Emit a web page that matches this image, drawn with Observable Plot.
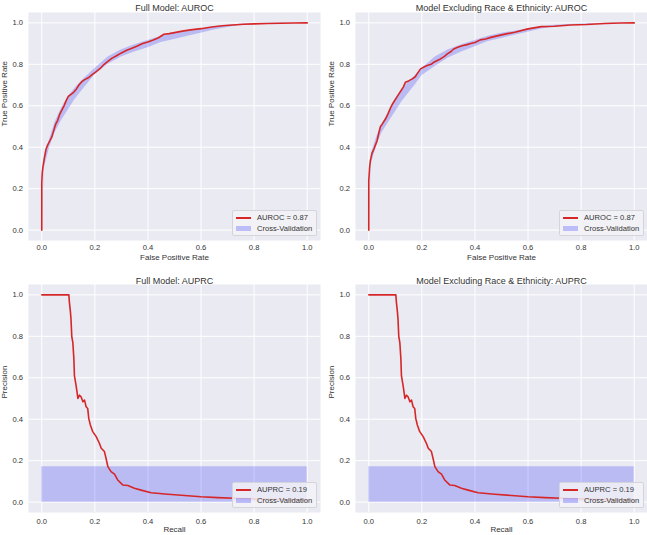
<!DOCTYPE html>
<html><head><meta charset="utf-8">
<script src="https://cdn.jsdelivr.net/npm/d3@7"></script>
<script src="https://cdn.jsdelivr.net/npm/@observablehq/plot@0.6"></script>
<style>
body{margin:0;background:#fff;font-family:"Liberation Sans",Arial,sans-serif;}
#wrap{position:relative;width:647px;height:535px;overflow:hidden;}
.panel{position:absolute;}
.legend{position:absolute;box-sizing:border-box;background:rgba(242,242,247,0.85);border:1px solid #d4d4dc;border-radius:2px;font-size:7.6px;color:#333;padding-top:1px;}
.row{display:flex;align-items:center;height:11px;line-height:11px;white-space:nowrap;}
.hl{width:15px;height:2px;margin-left:3px;margin-right:6px;}
.hp{width:15px;height:5px;margin-left:3px;margin-right:6px;}
</style></head><body><div id="wrap"></div><script>
// ---- data ----
const axisTicks = [0, 0.2, 0.4, 0.6, 0.8, 1.0];
const panelTitles = ["Full Model: AUROC", "Model Excluding Race & Ethnicity: AUROC", "Full Model: AUPRC", "Model Excluding Race & Ethnicity: AUPRC"];
const xLabels = ["False Positive Rate", "False Positive Rate", "Recall", "Recall"];
const yLabels = ["True Positive Rate", "True Positive Rate", "Precision", "Precision"];
const curveLabels = ["AUROC = 0.87", "AUROC = 0.87", "AUPRC = 0.19", "AUPRC = 0.19"];
const bandLabel = "Cross-Validation";

const fullRocFpr = [0,0.0,0.002,0.005,0.01,0.016,0.022,0.03,0.038,0.045,0.052,0.06,0.068,0.076,0.084,0.092,0.1,0.11,0.12,0.13,0.14,0.15,0.16,0.175,0.19,0.205,0.22,0.235,0.25,0.265,0.28,0.3,0.32,0.34,0.36,0.38,0.4,0.42,0.44,0.46,0.48,0.5,0.53,0.56,0.6,0.64,0.68,0.72,0.76,0.8,0.85,0.9,0.95,1];
const fullRocTpr = [0,0.23,0.28,0.31,0.35,0.39,0.41,0.43,0.45,0.48,0.51,0.53,0.56,0.58,0.6,0.625,0.645,0.655,0.665,0.68,0.70,0.715,0.725,0.735,0.75,0.765,0.78,0.80,0.815,0.83,0.84,0.855,0.868,0.878,0.888,0.90,0.908,0.917,0.928,0.945,0.948,0.953,0.96,0.966,0.972,0.98,0.986,0.99,0.993,0.995,0.997,0.998,0.999,1];
const fullBandFpr = [0,0.01,0.03,0.05,0.075,0.1,0.125,0.15,0.175,0.2,0.25,0.3,0.35,0.4,0.45,0.5,0.55,0.6,0.65,0.7,0.75,0.8,0.9,1];
const fullBandLo  = [0,0.30,0.40,0.47,0.53,0.58,0.63,0.67,0.71,0.75,0.80,0.835,0.86,0.88,0.905,0.92,0.935,0.95,0.965,0.978,0.988,0.993,0.997,1];
const fullBandHi  = [0,0.36,0.44,0.52,0.59,0.645,0.685,0.72,0.75,0.78,0.835,0.87,0.895,0.915,0.935,0.95,0.96,0.97,0.98,0.988,0.993,0.997,0.999,1];

const exclRocFpr = [0,0,0.003,0.006,0.012,0.019,0.025,0.031,0.038,0.044,0.05,0.063,0.072,0.082,0.09,0.1,0.11,0.12,0.13,0.138,0.15,0.164,0.175,0.182,0.195,0.21,0.22,0.235,0.245,0.26,0.27,0.285,0.296,0.31,0.32,0.335,0.352,0.37,0.384,0.4,0.42,0.44,0.46,0.48,0.5,0.55,0.6,0.65,0.7,0.76,0.82,0.89,0.95,1];
const exclRocTpr = [0,0.24,0.30,0.335,0.37,0.39,0.41,0.43,0.47,0.50,0.51,0.536,0.56,0.59,0.61,0.63,0.65,0.67,0.69,0.713,0.72,0.73,0.74,0.754,0.778,0.788,0.794,0.80,0.81,0.82,0.826,0.838,0.85,0.862,0.874,0.882,0.89,0.895,0.90,0.905,0.918,0.922,0.93,0.936,0.942,0.955,0.971,0.982,0.984,0.99,0.992,0.997,0.999,1];
const exclBandFpr = [0,0.01,0.03,0.05,0.075,0.1,0.125,0.15,0.175,0.2,0.25,0.3,0.35,0.4,0.45,0.5,0.55,0.6,0.65,0.7,0.75,0.8,0.9,1];
const exclBandLo  = [0,0.32,0.41,0.47,0.52,0.57,0.62,0.66,0.70,0.745,0.79,0.83,0.86,0.885,0.91,0.925,0.94,0.955,0.97,0.98,0.987,0.99,0.996,1];
const exclBandHi  = [0,0.37,0.45,0.51,0.57,0.63,0.675,0.715,0.745,0.78,0.835,0.87,0.895,0.915,0.935,0.95,0.96,0.97,0.98,0.988,0.992,0.995,0.998,1];

const prRecall    = [0,0.102,0.104,0.108,0.11,0.113,0.117,0.121,0.123,0.129,0.133,0.136,0.142,0.148,0.155,0.161,0.167,0.173,0.177,0.183,0.192,0.205,0.217,0.224,0.236,0.242,0.249,0.261,0.274,0.286,0.305,0.324,0.349,0.374,0.412,0.475,0.538,0.6,0.663,0.726,0.85,0.977,1.0];
const prPrecision = [1,1,0.965,0.917,0.885,0.80,0.77,0.69,0.61,0.565,0.53,0.50,0.516,0.508,0.484,0.492,0.46,0.452,0.404,0.372,0.34,0.316,0.284,0.26,0.244,0.212,0.171,0.147,0.135,0.107,0.083,0.08,0.067,0.058,0.045,0.038,0.032,0.026,0.022,0.019,0.014,0.01,0.008];
const prBandRecall = [0, 1];
const prBandLo = [0, 0];
const prBandHi = [0.171, 0.171];

// ---- build ----
const red = "#d62728";
const bg = "#eaeaf2";
const zip2 = (xs, ys) => xs.map((x, i) => ({x, y: ys[i]}));
const zip3 = (xs, lo, hi) => xs.map((x, i) => ({x, lo: lo[i], hi: hi[i]}));

const panels = [
  {left: 0, top: 0, width: 322, height: 265, mt: 12, mb: 25, ml: 28, mr: 2, tdy: -7.5, xpad: 4, xldy: 19.5,
   curve: zip2(fullRocFpr, fullRocTpr), band: zip3(fullBandFpr, fullBandLo, fullBandHi)},
  {left: 320, top: 0, width: 327, height: 265, mt: 12, mb: 25, ml: 35, mr: 0, tdy: -7.5, xpad: 4, xldy: 19.5,
   curve: zip2(exclRocFpr, exclRocTpr), band: zip3(exclBandFpr, exclBandLo, exclBandHi)},
  {left: 0, top: 270, width: 322, height: 265, mt: 14, mb: 23, ml: 28, mr: 2, tdy: -6.5, xpad: 6, xldy: 19.8,
   curve: zip2(prRecall, prPrecision), band: zip3(prBandRecall, prBandLo, prBandHi)},
  {left: 320, top: 270, width: 327, height: 265, mt: 14, mb: 23, ml: 35, mr: 0, tdy: -6.5, xpad: 6, xldy: 19.8,
   curve: zip2(prRecall, prPrecision), band: zip3(prBandRecall, prBandLo, prBandHi)}
];

const wrap = document.getElementById("wrap");
const fmt = d3.format(".1f");

panels.forEach((p, i) => {
  const chart = Plot.plot({
    width: p.width, height: p.height,
    marginTop: p.mt, marginBottom: p.mb, marginLeft: p.ml, marginRight: p.mr,
    x: {domain: [-0.05, 1.05]},
    y: {domain: [-0.05, 1.05]},
    style: {fontSize: "7.6px", fontFamily: "'Liberation Sans', Arial, sans-serif", color: "#333", background: "transparent", overflow: "visible"},
    marks: [
      Plot.frame({fill: bg, stroke: null}),
      Plot.gridX(axisTicks, {stroke: "white", strokeOpacity: 1, strokeWidth: 1}),
      Plot.gridY(axisTicks, {stroke: "white", strokeOpacity: 1, strokeWidth: 1}),
      Plot.areaY(p.band, {x: "x", y1: "lo", y2: "hi", fill: "blue", fillOpacity: 0.2}),
      Plot.line(p.curve, {x: "x", y: "y", stroke: red, strokeWidth: 1.6}),
      Plot.axisX(axisTicks, {tickSize: 0, tickPadding: p.xpad, tickFormat: fmt, label: null}),
      Plot.axisY(axisTicks, {tickSize: 0, tickPadding: 5.5, tickFormat: fmt, label: null}),
      Plot.text([panelTitles[i]], {text: d => d, frameAnchor: "top", dy: p.tdy, fontSize: 9}),
      Plot.text([xLabels[i]], {text: d => d, frameAnchor: "bottom", dy: p.xldy, fontSize: 8}),
      Plot.text([yLabels[i]], {text: d => d, frameAnchor: "left", dx: -23.8, rotate: -90, fontSize: 8})
    ]
  });
  const div = document.createElement("div");
  div.className = "panel";
  div.style.left = p.left + "px";
  div.style.top = p.top + "px";
  div.appendChild(chart);
  wrap.appendChild(div);

  // legend
  const frameRight = p.left + p.width - p.mr;
  const frameBottom = p.top + p.height - p.mb;
  const lg = document.createElement("div");
  lg.className = "legend";
  const w = 85, h = 26;
  lg.style.left = (frameRight - 3 - w) + "px";
  lg.style.top = (frameBottom - 4 - h) + "px";
  lg.style.width = w + "px";
  lg.style.height = h + "px";
  const r1 = document.createElement("div"); r1.className = "row";
  const s1 = document.createElement("span"); s1.className = "hl"; s1.style.background = red;
  const t1 = document.createElement("span"); t1.textContent = curveLabels[i];
  r1.append(s1, t1);
  const r2 = document.createElement("div"); r2.className = "row";
  const s2 = document.createElement("span"); s2.className = "hp"; s2.style.background = "rgba(0,0,255,0.22)";
  const t2 = document.createElement("span"); t2.textContent = bandLabel;
  r2.append(s2, t2);
  lg.append(r1, r2);
  wrap.appendChild(lg);
});
</script></body></html>
